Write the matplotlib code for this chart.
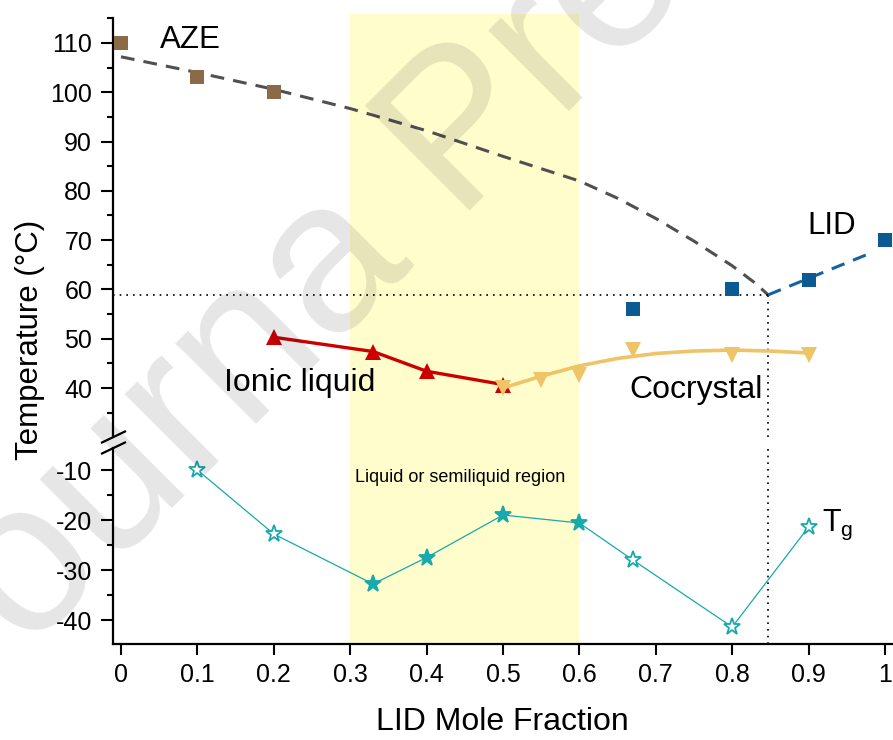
import matplotlib
matplotlib.use('Agg')
import matplotlib.pyplot as plt
from matplotlib.lines import Line2D

plt.rcParams['font.family'] = ['Liberation Sans', 'DejaVu Sans']
plt.rcParams['mathtext.fontset'] = 'custom'
plt.rcParams['mathtext.rm'] = 'Liberation Sans'
plt.rcParams['mathtext.it'] = 'Liberation Sans'
plt.rcParams['axes.unicode_minus'] = False

# melting points of pure components
aze_x = [0, 0.1, 0.2]
aze_y = [110, 103, 100]
lid_x = [0.67, 0.8, 0.9, 1.0]
lid_y = [56, 60, 62, 70]

# liquidus guide curves
aze_curve_x = [0, 0.1, 0.2, 0.3, 0.4, 0.5, 0.6, 0.65, 0.7, 0.75, 0.8, 0.83, 0.847]
aze_curve_y = [107.2, 104.0, 100.6, 96.7, 92.2, 87.0, 82.0, 78.5, 74.4, 69.8, 64.8, 61.3, 58.9]
lid_curve_x = [0.847, 0.98]
lid_curve_y = [58.9, 67.3]
eutectic_x = 0.847
eutectic_y = 58.9

# ionic liquid and cocrystal
il_x = [0.2, 0.33, 0.4, 0.5]
il_y = [50.3, 47.4, 43.4, 40.7]
cc_x = [0.5, 0.55, 0.6, 0.67, 0.8, 0.9]
cc_y = [40.0, 41.6, 42.6, 47.7, 46.7, 46.7]
cc_curve_x = [0.5, 0.55, 0.6, 0.65, 0.7, 0.75, 0.8, 0.85, 0.9]
cc_curve_y = [40.0, 42.4, 44.5, 46.0, 47.0, 47.5, 47.7, 47.5, 47.1]

# glass transitions
tg_x = [0.1, 0.2, 0.33, 0.4, 0.5, 0.6, 0.67, 0.8, 0.9]
tg_y = [-10.0, -22.8, -32.8, -27.5, -19.0, -20.6, -28.0, -41.4, -21.4]
tg_filled = [False, False, True, True, True, True, False, False, False]

x_ticks = [0, 0.1, 0.2, 0.3, 0.4, 0.5, 0.6, 0.7, 0.8, 0.9, 1.0]
x_labels = ['0', '0.1', '0.2', '0.3', '0.4', '0.5', '0.6', '0.7', '0.8', '0.9', '1']
top_ticks = [40, 50, 60, 70, 80, 90, 100, 110]
bot_ticks = [-40, -30, -20, -10]

brown = '#8B6A47'
blue = '#0B5B92'
red = '#CC0000'
gold = '#EEC466'
teal = '#17A9AB'
shade = '#FFFDCC'

fig = plt.figure(figsize=(8.93, 7.40), dpi=100)
ax = fig.add_axes([0.1265, 0.40946, 0.8735, 0.56622])
axb = fig.add_axes([0.1265, 0.12973, 0.8735, 0.26486])

for a in (ax, axb):
    a.set_xlim(-0.0105, 1.0105)
    a.axvspan(0.3, 0.6, color=shade, lw=0, zorder=0)
    a.spines['top'].set_visible(False)
    a.spines['right'].set_visible(False)
    a.spines['left'].set_linewidth(1.6)
    a.spines['bottom'].set_linewidth(1.6)
    a.tick_params(axis='y', which='major', direction='out', length=9, width=1.5,
                  labelsize=18, pad=6)
    a.tick_params(axis='y', which='minor', direction='out', length=4.5, width=1.5)
ax.axvspan(0.3, 0.6, ymin=-0.03, ymax=1.01, color=shade, lw=0, zorder=0, clip_on=False)

# upper panel
ax.set_ylim(30.06, 115.07)
ax.spines['bottom'].set_visible(False)
ax.set_xticks([])
ax.set_yticks(top_ticks)
ax.set_yticks([35, 45, 55, 65, 75, 85, 95, 105, 115], minor=True)

ax.plot(aze_curve_x, aze_curve_y, color='#505050', lw=2.2, dashes=(4.5, 3), zorder=2)
ax.plot(lid_curve_x, lid_curve_y, color='#1663A0', lw=2.2, dashes=(4.5, 3), zorder=2)
ax.plot([-0.0105, eutectic_x], [eutectic_y, eutectic_y], color='black', lw=1.2,
        linestyle=(0, (1, 3)), zorder=2)
ax.plot([eutectic_x, eutectic_x], [30.06, eutectic_y], color='black', lw=1.2,
        linestyle=(0, (1, 3)), zorder=2, clip_on=False)

ax.plot(aze_x, aze_y, 's', color=brown, ms=10.5, mew=0, zorder=4, clip_on=False)
ax.plot(lid_x, lid_y, 's', color=blue, ms=10.5, mew=0, zorder=4, clip_on=False)

ax.plot(il_x, il_y, color=red, lw=2.4, marker='^', ms=11.5, mew=0, zorder=3)
ax.plot(cc_curve_x, cc_curve_y, color=gold, lw=2.6, zorder=3)
ax.plot(cc_x, cc_y, 'v', color=gold, ms=11.5, mew=0, zorder=4)

ax.text(0.051, 110.6, 'AZE', fontsize=22.5, ha='left', va='center')
ax.text(0.899, 72.9, 'LID', fontsize=22.5, ha='left', va='center')
ax.text(0.135, 41.0, 'Ionic liquid', fontsize=23, ha='left', va='center')
ax.text(0.666, 39.6, 'Cocrystal', fontsize=23, ha='left', va='center')

# lower panel
axb.set_ylim(-44.8, -5.6)
axb.set_yticks(bot_ticks)
axb.set_yticks([-35, -25, -15], minor=True)
axb.set_xticks(x_ticks)
axb.set_xticklabels(x_labels)
axb.tick_params(axis='x', direction='out', length=8, width=1.5, labelsize=18, pad=6)
axb.plot([eutectic_x, eutectic_x], [-44.8, -5.6], color='black', lw=1.2,
         linestyle=(0, (1, 3)), zorder=2, clip_on=False)

axb.plot(tg_x, tg_y, color=teal, lw=0.9, zorder=3)
for x, y, f in zip(tg_x, tg_y, tg_filled):
    axb.plot(x, y, marker='*', ms=12.5, mec=teal, mew=1.3,
             mfc=teal if f else 'white', zorder=4)

axb.text(0.306, -11.4, 'Liquid or semiliquid region', fontsize=13, ha='left', va='center')
axb.text(0.917, -21.0, r'T$_{\mathrm{g}}$', fontsize=22, ha='left', va='center')

# break marks on the y axis
for yp in (437, 448):
    fig.add_artist(Line2D([102 / 893, 125 / 893],
                          [1 - (yp + 5.5) / 740, 1 - (yp - 5.5) / 740],
                          color='black', lw=1.6))

fig.text(30 / 893, 1 - 340 / 740, 'Temperature (°C)', fontsize=22.5, rotation=90,
         ha='center', va='center')
fig.text(502 / 893, 1 - 722 / 740, 'LID Mole Fraction', fontsize=23,
         ha='center', va='center')

# watermark
fig.text(-50 / 893, 1 - 730 / 740, 'Journa Pre-proof', fontsize=155, rotation=45,
         rotation_mode='anchor', ha='left', va='baseline', color='black',
         alpha=0.1, zorder=10)

fig.savefig('out.png', dpi=100)
